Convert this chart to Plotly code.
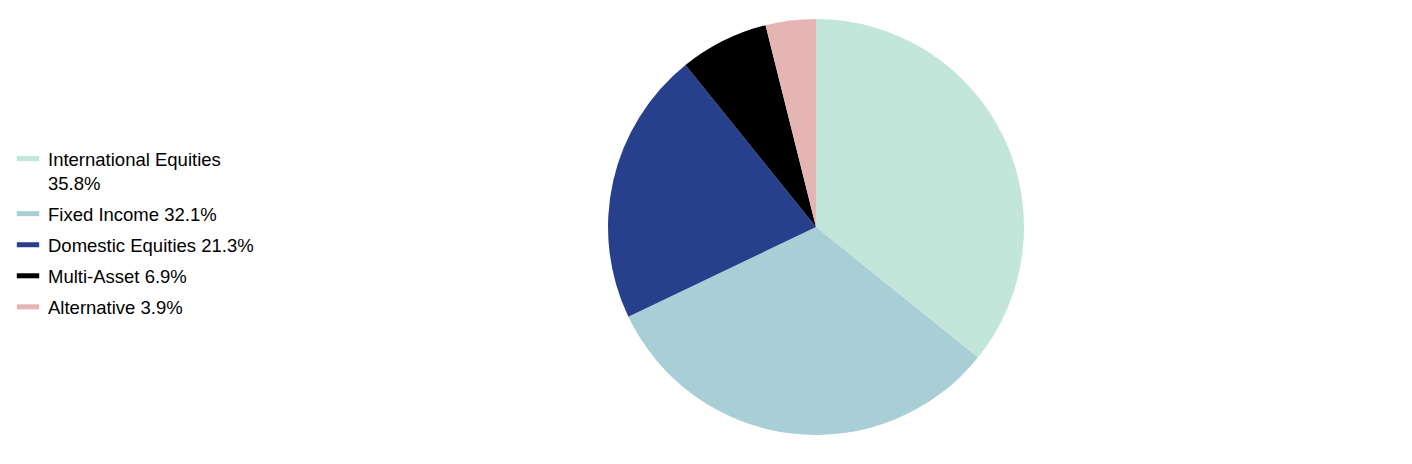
import plotly.graph_objects as go

names = ["International Equities", "Fixed Income", "Domestic Equities",
         "Multi-Asset", "Alternative"]
values = [35.8, 32.1, 21.3, 6.9, 3.9]
colors = ["#c2e6d9", "#a7cfd5", "#27408b", "#000000", "#e5b5b4"]

# legend text: long name wraps onto a second line
legend_text = [n + ("<br>" if len(n) > 20 else " ") + f"{v:.1f}%"
               for n, v in zip(names, values)]

fig = go.Figure()
fig.add_trace(go.Pie(
    labels=names,
    values=values,
    sort=False,
    direction="clockwise",
    rotation=0,
    textinfo="none",
    hovertemplate="%{label}: %{value:.1f}%<extra></extra>",
    marker=dict(colors=colors, line=dict(width=0)),
    domain=dict(x=[0.1445, 1], y=[0, 1]),
    showlegend=False,
))

# legend entries drawn as short thick bars
for txt, c in zip(legend_text, colors):
    fig.add_trace(go.Scatter(
        x=[None], y=[None], mode="markers", name=txt, legendgroup=txt,
        marker=dict(symbol="line-ew", size=17, color=c,
                    line=dict(width=6, color=c)),
        hoverinfo="skip",
    ))

fig.update_layout(
    width=1412, height=464,
    margin=dict(l=0, r=0, t=11, b=37),
    paper_bgcolor="white",
    plot_bgcolor="white",
    xaxis=dict(visible=False),
    yaxis=dict(visible=False),
    font=dict(family="Liberation Sans, Arial", size=18.5, color="#000000"),
    legend=dict(x=0, xanchor="left", y=0.709, yanchor="top",
                valign="top", tracegroupgap=4, font=dict(size=18.5)),
)

fig.write_html("out.html")
